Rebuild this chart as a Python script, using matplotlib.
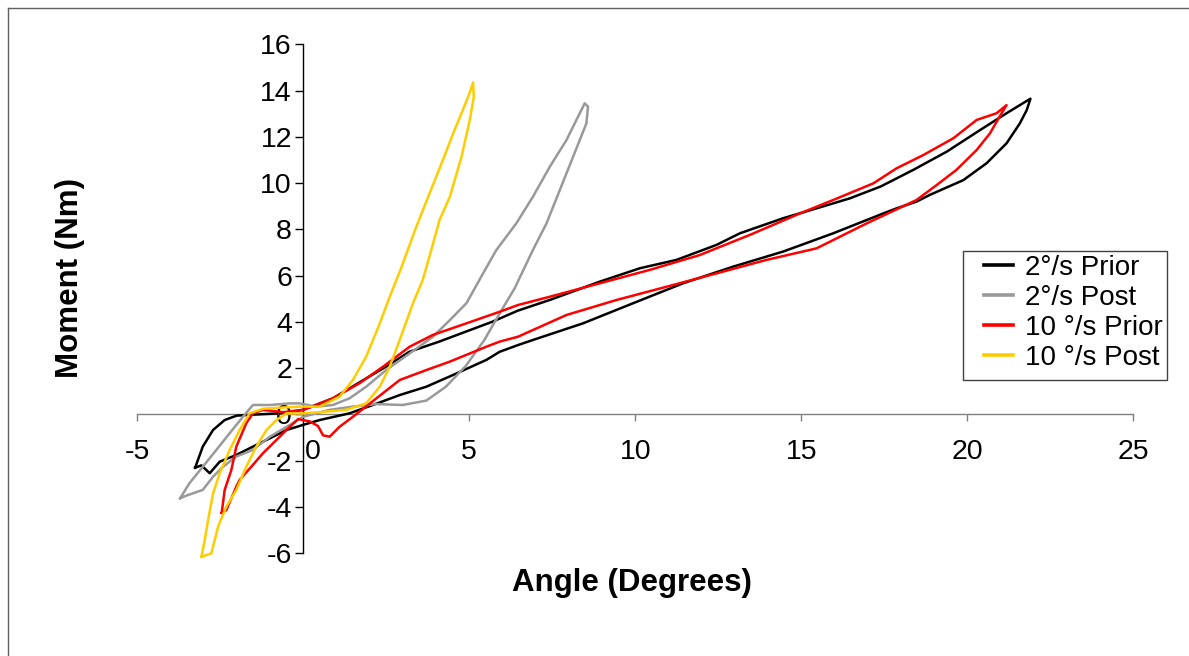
import matplotlib
matplotlib.use('Agg')
import matplotlib.pyplot as plt
from matplotlib.lines import Line2D
from matplotlib.patches import Rectangle

plt.rcParams['font.family'] = ['Liberation Sans', 'DejaVu Sans']

# ---------------- data ----------------
series_labels = ['2°/s Prior', '2°/s Post', '10 °/s Prior', '10 °/s Post']
series_colors = ['#000000', '#999999', '#FF0000', '#FFCC00']

# 2°/s Prior (black) – closed hysteresis loop
black_x = [-3.25, -3.02, -2.71, -2.36, -2.0, -1.4, -0.7, 0.0, 0.9, 1.9, 2.5, 3.2, 4.1, 4.9, 5.7,
           6.47, 7.43, 8.93, 10.14, 11.24, 12.45, 13.15, 14.45, 15.46, 16.46, 17.4, 18.37, 19.38,
           20.38, 21.18, 21.58, 21.9,
           21.79, 21.58, 21.18, 20.58, 19.88, 18.87, 18.47, 17.87, 17.47, 15.96, 14.45, 12.95,
           11.44, 9.94, 8.43, 6.92, 6.47, 5.92, 5.52, 4.52, 3.71, 2.91, 2.1, 1.4, 0.5, 0.0, -0.5,
           -1.0, -1.51, -2.01, -2.51, -2.81, -3.06, -3.25]
black_y = [-2.3, -1.39, -0.67, -0.24, -0.05, 0.0, 0.05, 0.2, 0.7, 1.56, 2.07, 2.71, 3.15, 3.58, 4.01,
           4.49, 4.95, 5.74, 6.32, 6.68, 7.33, 7.83, 8.48, 8.91, 9.34, 9.86, 10.57, 11.36,
           12.29, 13.02, 13.37, 13.65,
           13.16, 12.58, 11.72, 10.86, 10.13, 9.49, 9.2, 8.91, 8.69, 7.83, 7.04, 6.39,
           5.67, 4.81, 3.94, 3.22, 3.0, 2.71, 2.36, 1.71, 1.2, 0.84, 0.41, 0.05, -0.24, -0.45, -0.67,
           -1.03, -1.39, -1.75, -2.04, -2.54, -2.2, -2.3]

# 2°/s Post (grey)
grey_x = [-3.7, -3.42, -3.02, -2.61, -2.21, -1.81, -1.51, -1.0, -0.4, -0.1, 0.4, 0.9, 1.4, 1.9,
          2.5, 3.21, 3.91, 4.42, 4.92, 5.42, 5.82, 6.42, 6.92, 7.43, 7.93, 8.23, 8.48,
          8.58, 8.53, 8.13, 7.73, 7.33, 6.92, 6.37, 5.92, 5.45, 4.9, 4.3, 3.71, 3.0, 2.2, 1.5,
          0.8, 0.0, -0.4, -1.0, -1.51, -2.01, -2.41, -2.71, -3.02, -3.5, -3.7]
grey_y = [-3.62, -2.97, -2.26, -1.53, -0.81, -0.1, 0.41, 0.41, 0.48, 0.48, 0.34, 0.41, 0.7, 1.2,
          1.92, 2.64, 3.36, 4.08, 4.81, 6.1, 7.11, 8.26, 9.41, 10.71, 11.86, 12.73, 13.45,
          13.3, 12.58, 11.14, 9.7, 8.26, 7.11, 5.45, 4.37, 3.2, 2.1, 1.2, 0.6, 0.41, 0.45, 0.34,
          0.2, -0.1, -0.45, -0.96, -1.53, -1.82, -2.26, -2.69, -3.26, -3.5, -3.62]

# 10 °/s Prior (red)
red_x = [-2.45, -2.36, -2.16, -2.01, -1.71, -1.51, -1.21, -0.6, 0.0, 0.3, 0.9, 1.7, 2.41, 3.21,
         3.91, 4.92, 5.92, 6.47, 7.43, 8.93, 10.44, 11.94, 13.45, 14.96, 15.96, 17.17, 17.87,
         18.67, 19.58, 20.28, 20.88, 21.18,
         20.97, 20.68, 20.28, 19.67, 19.08, 18.47, 16.97, 15.46, 13.95, 12.45, 10.94, 9.44,
         7.93, 6.47, 5.92, 5.52, 4.41, 3.71, 2.91, 2.21, 1.5, 1.1, 0.8, 0.6, 0.45, 0.2, -0.15,
         -0.5, -0.8, -1.21, -1.56, -1.91, -2.01, -2.31, -2.45]
red_y = [-4.25, -3.26, -2.4, -1.39, -0.38, 0.05, 0.2, 0.1, 0.2, 0.35, 0.7, 1.35, 2.07, 2.93,
         3.44, 3.94, 4.44, 4.73, 5.09, 5.67, 6.25, 6.89, 7.76, 8.69, 9.27, 9.99, 10.64,
         11.21, 11.94, 12.73, 13.02, 13.37,
         12.87, 12.15, 11.43, 10.57, 9.92, 9.27, 8.26, 7.18, 6.68, 6.1, 5.52, 4.95,
         4.3, 3.36, 3.15, 2.93, 2.28, 1.92, 1.49, 0.7, -0.1, -0.53, -0.96, -0.9, -0.5, -0.3, -0.2,
         -0.67, -1.1, -1.68, -2.26, -2.83, -3.12, -4.13, -4.25]

# 10 °/s Post (yellow)
yellow_x = [-3.06, -2.96, -2.86, -2.71, -2.51, -2.21, -1.91, -1.61, -1.2, -0.6, -0.1, 0.5, 1.1,
            1.5, 1.9, 2.31, 2.61, 2.93, 3.41, 3.91, 4.21, 4.52, 4.77, 4.97, 5.12,
            5.14, 5.02, 4.77, 4.42, 4.11, 3.86, 3.6, 3.31, 2.91, 2.61, 2.31, 1.9, 1.3, 0.5, 0.0,
            -0.5, -0.8, -1.1, -1.41, -1.71, -2.01, -2.31, -2.56, -2.76, -3.06]
yellow_y = [-6.15, -5.42, -4.56, -3.41, -2.54, -1.53, -0.67, 0.05, 0.25, 0.3, 0.34, 0.34, 0.77,
            1.49, 2.5, 3.94, 5.09, 6.24, 8.12, 9.92, 11.0, 12.15, 13.02, 13.73, 14.35,
            13.73, 12.73, 11.14, 9.41, 8.41, 7.11, 5.8, 4.81, 3.22, 2.07, 1.2, 0.48, 0.2, 0.1, 0.05,
            0.05, -0.24, -0.67, -1.39, -2.26, -3.26, -3.98, -4.85, -6.0, -6.15]

x_ticks = [-5, 0, 5, 10, 15, 20, 25]
y_ticks = [-6, -4, -2, 0, 2, 4, 6, 8, 10, 12, 14, 16]
x_label = 'Angle (Degrees)'
y_label = 'Moment (Nm)'

# ---------------- figure ----------------
W, H = 1189, 656
fig = plt.figure(figsize=(W / 100, H / 100), dpi=100)
fig.patch.set_facecolor('white')

ax_l, ax_r, ax_t, ax_b = 137, 1133.4, 44.3, 553.3
ax = fig.add_axes([ax_l / W, 1 - ax_b / H, (ax_r - ax_l) / W, (ax_b - ax_t) / H])
ax.set_facecolor('none')

all_x = [black_x, grey_x, red_x, yellow_x]
all_y = [black_y, grey_y, red_y, yellow_y]
for xs, ys, c, lab in zip(all_x, all_y, series_colors, series_labels):
    ax.plot(xs, ys, color=c, lw=1.8, label=lab, zorder=3, solid_joinstyle='round',
            clip_on=False)

ax.set_xlim(-5, 25)
ax.set_ylim(-6, 16)
ax.spines['left'].set_position(('data', 0))
ax.spines['bottom'].set_position(('data', 0))
ax.spines['top'].set_visible(False)
ax.spines['right'].set_visible(False)
ax.spines['bottom'].set_color('#808080')
ax.spines['left'].set_color('black')
ax.spines['left'].set_linewidth(1.0)
ax.spines['bottom'].set_linewidth(1.0)

ax.set_xticks(x_ticks)
ax.set_xticklabels([('' if v == 0 else str(v)) for v in x_ticks])
ax.set_yticks(y_ticks)
ax.set_yticklabels([str(v) for v in y_ticks])
ax.tick_params(axis='x', direction='out', length=5, width=1, color='#808080', pad=13,
               labelsize=20.5, labelcolor='black')
ax.tick_params(axis='y', direction='out', length=6, width=1, color='black', pad=2,
               labelsize=20.5, labelcolor='black')

# the "0" label of the x axis sits just right of the y axis
ax.annotate('0', xy=(0, 0), xycoords='data', xytext=(7, -18), textcoords='offset points',
            ha='center', va='top', fontsize=20.5)

# axis titles
fig.text(70 / W, 1 - 278 / H, y_label, rotation=90, ha='center', va='center',
         fontsize=22.5, fontweight='bold')
fig.text(632 / W, 1 - 583 / H, x_label, ha='center', va='center',
         fontsize=22.5, fontweight='bold')

# legend (frameless, box drawn separately)
handles = [Line2D([], [], color=c, lw=2.6) for c in series_colors]
leg = fig.legend(handles, series_labels, loc='upper left',
                 bbox_to_anchor=(984 / W, 1 - 255 / H), bbox_transform=fig.transFigure,
                 frameon=False, fontsize=20, handlelength=1.04, handletextpad=0.43,
                 labelspacing=0.14, borderpad=0.0, borderaxespad=0.0)
fig.add_artist(Rectangle((963 / W, 1 - 380 / H), (1167 - 963) / W, (380 - 251) / H,
                         transform=fig.transFigure, fill=False, edgecolor='#404040', lw=1.0))

# outer chart frame (left and top edges visible)
fig.add_artist(Line2D([8 / W, 8 / W], [0, 1 - 7.5 / H], transform=fig.transFigure,
                      color='#606060', lw=1.0))
fig.add_artist(Line2D([8 / W, 1], [1 - 7.5 / H, 1 - 7.5 / H], transform=fig.transFigure,
                      color='#606060', lw=1.0))

fig.savefig('out.png', dpi=100)
